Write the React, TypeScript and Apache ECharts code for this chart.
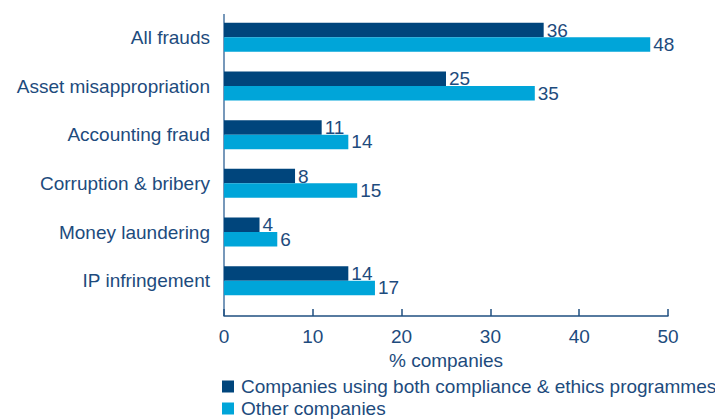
import React, { useEffect, useRef } from "react";
import * as echarts from "echarts";

const categories = [
  "All frauds",
  "Asset misappropriation",
  "Accounting fraud",
  "Corruption & bribery",
  "Money laundering",
  "IP infringement",
];
const seriesNames = [
  "Companies using both compliance & ethics programmes",
  "Other companies",
];
const complianceValues = [36, 25, 11, 8, 4, 14];
const otherValues = [48, 35, 14, 15, 6, 17];
const xTicks = [0, 10, 20, 30, 40, 50];

const DARK = "#00457c";
const LIGHT = "#00a5d9";
const TEXT = "#1d4b7d";
const FONT = "'Liberation Sans', Arial, Helvetica, sans-serif";
const FS = 19;

export default function App() {
  const ref = useRef<HTMLDivElement>(null);
  useEffect(() => {
    document.body.style.margin = "0";
    const chart = echarts.init(ref.current!, null, { renderer: "svg" });
    chart.setOption({
      animation: false,
      textStyle: { fontFamily: FONT },
      grid: { left: 224, right: 47, top: 13, height: 292, containLabel: false },
      xAxis: {
        type: "value",
        min: xTicks[0],
        max: xTicks[xTicks.length - 1],
        interval: xTicks[1] - xTicks[0],
        offset: 11,
        axisLine: { show: true, lineStyle: { color: "#1f4f80", width: 1.5 } },
        axisTick: { show: true, inside: true, length: 7, lineStyle: { color: "#1f4f80", width: 1.5 } },
        axisLabel: { fontSize: FS, color: TEXT, margin: 11, fontFamily: FONT },
        splitLine: { show: false },
        name: "% companies",
        nameLocation: "middle",
        nameGap: 32,
        nameTextStyle: { fontSize: FS, color: TEXT, fontFamily: FONT },
      },
      yAxis: {
        type: "category",
        inverse: true,
        data: categories,
        axisLine: { show: false },
        axisTick: { show: false },
        axisLabel: { fontSize: FS, color: TEXT, margin: 14, fontFamily: FONT },
      },
      legend: {
        orient: "vertical",
        left: 222,
        top: 377,
        icon: "rect",
        itemWidth: 12,
        itemHeight: 12,
        itemGap: 3,
        padding: 0,
        textStyle: { fontSize: FS, color: TEXT, fontFamily: FONT, padding: [0, 0, 0, 2] },
        data: seriesNames,
      },
      graphic: [
        {
          type: "line",
          shape: { x1: 224, y1: 14, x2: 224, y2: 316 },
          style: { stroke: "#4a76a3", lineWidth: 1.5 },
        },
      ],
      series: [
        {
          name: seriesNames[0],
          type: "bar",
          data: complianceValues,
          barWidth: 14.5,
          barGap: "0%",
          itemStyle: { color: DARK },
          label: { show: true, position: "right", distance: 3, fontSize: FS, color: TEXT, fontFamily: FONT },
        },
        {
          name: seriesNames[1],
          type: "bar",
          data: otherValues,
          barWidth: 14.5,
          barGap: "0%",
          itemStyle: { color: LIGHT },
          label: { show: true, position: "right", distance: 3, fontSize: FS, color: TEXT, fontFamily: FONT },
        },
      ],
    });
    return () => chart.dispose();
  }, []);
  return <div ref={ref} style={{ width: 715, height: 419 }} />;
}
